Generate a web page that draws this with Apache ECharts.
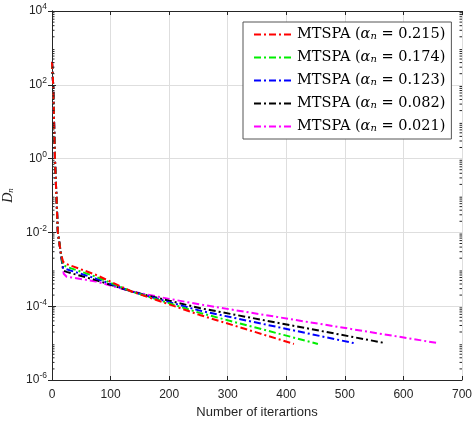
<!DOCTYPE html>
<html><head><meta charset="utf-8">
<script src="https://cdn.jsdelivr.net/npm/echarts@6/dist/echarts.min.js"></script>
<style>html,body{margin:0;padding:0;background:#fff}#c{width:472px;height:429px}</style>
</head><body><div id="c"></div>
<script>
// ---- data ----
const alphas = ['0.215', '0.174', '0.123', '0.082', '0.021'];
const colors = ['#ff0000', '#00ee00', '#0000ff', '#000000', '#ff00ff'];
const itersRed     = [0, 2, 5, 10, 15, 19, 25, 75, 136, 200, 252, 413];
const itersGreen   = [0, 2, 5, 10, 15, 19, 25, 75, 136, 200, 252, 454];
const itersBlue    = [0, 2, 5, 10, 15, 19, 25, 75, 136, 200, 252, 515];
const itersBlack   = [0, 2, 5, 10, 15, 19, 25, 75, 136, 200, 252, 569];
const itersMagenta = [0, 2, 5, 10, 15, 20, 25, 75, 136, 200, 252, 659];
const dRed     = [417, 100, 1, 0.01, 2.8e-3, 1.58e-3, 1.38e-3, 7.1e-4, 2.5e-4, 1.12e-4, 5.8e-5, 9.5e-6];
const dGreen   = [417, 100, 1, 0.01, 2.8e-3, 1.32e-3, 1.17e-3, 6.3e-4, 2.5e-4, 1.20e-4, 6.6e-5, 9.5e-6];
const dBlue    = [417, 100, 1, 0.01, 2.8e-3, 1.10e-3, 1.00e-3, 5.6e-4, 2.5e-4, 1.29e-4, 7.6e-5, 1.0e-5];
const dBlack   = [417, 100, 1, 0.01, 2.8e-3, 9.3e-4, 8.5e-4, 5.1e-4, 2.5e-4, 1.41e-4, 8.9e-5, 1.0e-5];
const dMagenta = [417, 100, 1, 0.01, 2.8e-3, 7.6e-4, 6.3e-4, 4.7e-4, 2.5e-4, 1.58e-4, 1.12e-4, 1.0e-5];
const xTicks = [0, 100, 200, 300, 400, 500, 600, 700];
const yExponents = [-6, -4, -2, 0, 2, 4];

const allIters = [itersRed, itersGreen, itersBlue, itersBlack, itersMagenta];
const allD = [dRed, dGreen, dBlue, dBlack, dMagenta];

// log minor tick positions (axis decoration)
const minorVals = [];
for (let e = -6; e < 4; e++) for (let k = 2; k <= 9; k++) minorVals.push(k * Math.pow(10, e));
const minorData = [];
minorVals.forEach(v => { minorData.push([0, v, 1]); minorData.push([700, v, -1]); });

const tickColor = '#262626';
const fontSans = '"Liberation Sans", Arial, sans-serif';
const fontSerif = '"DejaVu Serif", "Liberation Serif", serif';

const lineSeries = alphas.map((a, i) => ({
  name: a,
  type: 'line',
  data: allIters[i].map((x, j) => [x, allD[i][j]]),
  showSymbol: false,
  symbol: 'none',
  lineStyle: { color: colors[i], width: 2, type: [7, 3, 2, 3] },
  itemStyle: { color: colors[i] },
  z: 10 - i
}));

const chart = echarts.init(document.getElementById('c'), null, { renderer: 'canvas' });
chart.setOption({
  animation: false,
  backgroundColor: '#fff',
  grid: { left: 52, right: 10, top: 11, bottom: 49, containLabel: false, outerBoundsMode: 'none' },
  legend: {
    data: alphas,
    orient: 'vertical',
    left: 243, top: 22,
    backgroundColor: '#fff',
    borderColor: '#555',
    borderWidth: 1,
    padding: [5, 6, 5, 10],
    itemWidth: 38,
    itemHeight: 14,
    itemGap: 8,
    selectedMode: false,
    itemStyle: { opacity: 0, borderWidth: 0 },
    formatter: name => '{r|MTSPA (}{i|α}{s|n}{r| = ' + name + ')}',
    textStyle: {
      color: '#000',
      rich: {
        r: { fontFamily: fontSerif, fontSize: 14.5, color: '#000' },
        i: { fontFamily: fontSerif, fontSize: 14.5, fontStyle: 'italic', color: '#000' },
        s: { fontFamily: fontSerif, fontSize: 10, fontStyle: 'italic', color: '#000', padding: [0, 0, -4, 0] }
      }
    }
  },
  xAxis: [{
    type: 'value', min: 0, max: 700, interval: 100,
    name: 'Number of iterartions', nameLocation: 'middle', nameGap: 24,
    nameTextStyle: { fontFamily: fontSans, fontSize: 13, color: tickColor },
    axisLine: { lineStyle: { color: '#262626', width: 1 } },
    axisTick: { inside: true, length: 4, lineStyle: { color: '#262626' } },
    axisLabel: { fontFamily: fontSans, fontSize: 12, color: tickColor, margin: 9 },
    splitLine: { show: true, lineStyle: { color: '#dedede', width: 1 } }
  }, {
    type: 'value', min: 0, max: 700, interval: 100, position: 'top',
    axisLine: { lineStyle: { color: '#262626', width: 1 } },
    axisTick: { inside: true, length: 4, lineStyle: { color: '#262626' } },
    axisLabel: { show: false }, splitLine: { show: false }
  }],
  yAxis: [{
    type: 'log', logBase: 10, min: 1e-6, max: 1e4, interval: 2,
    name: '{d|D}{n|n}', nameLocation: 'middle', nameGap: 36, nameRotate: 90,
    nameTextStyle: {
      rich: {
        d: { fontFamily: '"Liberation Serif", serif', fontSize: 14, fontStyle: 'italic', color: '#222' },
        n: { fontFamily: '"Liberation Serif", serif', fontSize: 9, fontStyle: 'italic', color: '#222', padding: [0, 0, -4, 0] }
      }
    },
    axisLine: { lineStyle: { color: '#262626', width: 1 } },
    axisTick: { inside: true, length: 4, lineStyle: { color: '#262626' } },
    axisLabel: {
      margin: 5,
      formatter: v => '{b|10}{e|' + Math.round(Math.log10(v)) + '}',
      rich: {
        b: { fontFamily: fontSans, fontSize: 12, color: tickColor },
        e: { fontFamily: fontSans, fontSize: 8.5, color: tickColor, padding: [0, 0, 8, 0] }
      }
    },
    splitLine: { show: true, lineStyle: { color: '#dedede', width: 1 } }
  }, {
    type: 'log', logBase: 10, min: 1e-6, max: 1e4, interval: 2, position: 'right',
    axisLine: { lineStyle: { color: '#262626', width: 1 } },
    axisTick: { inside: true, length: 4, lineStyle: { color: '#262626' } },
    axisLabel: { show: false }, splitLine: { show: false }
  }],
  series: lineSeries.concat([{
    type: 'custom',
    name: 'minor',
    silent: true,
    clip: false,
    z: 20,
    data: minorData,
    encode: { x: 0, y: 1 },
    renderItem: (params, api) => {
      const p = api.coord([api.value(0), api.value(1)]);
      const dir = api.value(2);
      return { type: 'line', shape: { x1: p[0], y1: p[1], x2: p[0] + dir * 2.5, y2: p[1] },
               style: { stroke: '#262626', lineWidth: 1 } };
    }
  }])
});
</script></body></html>
